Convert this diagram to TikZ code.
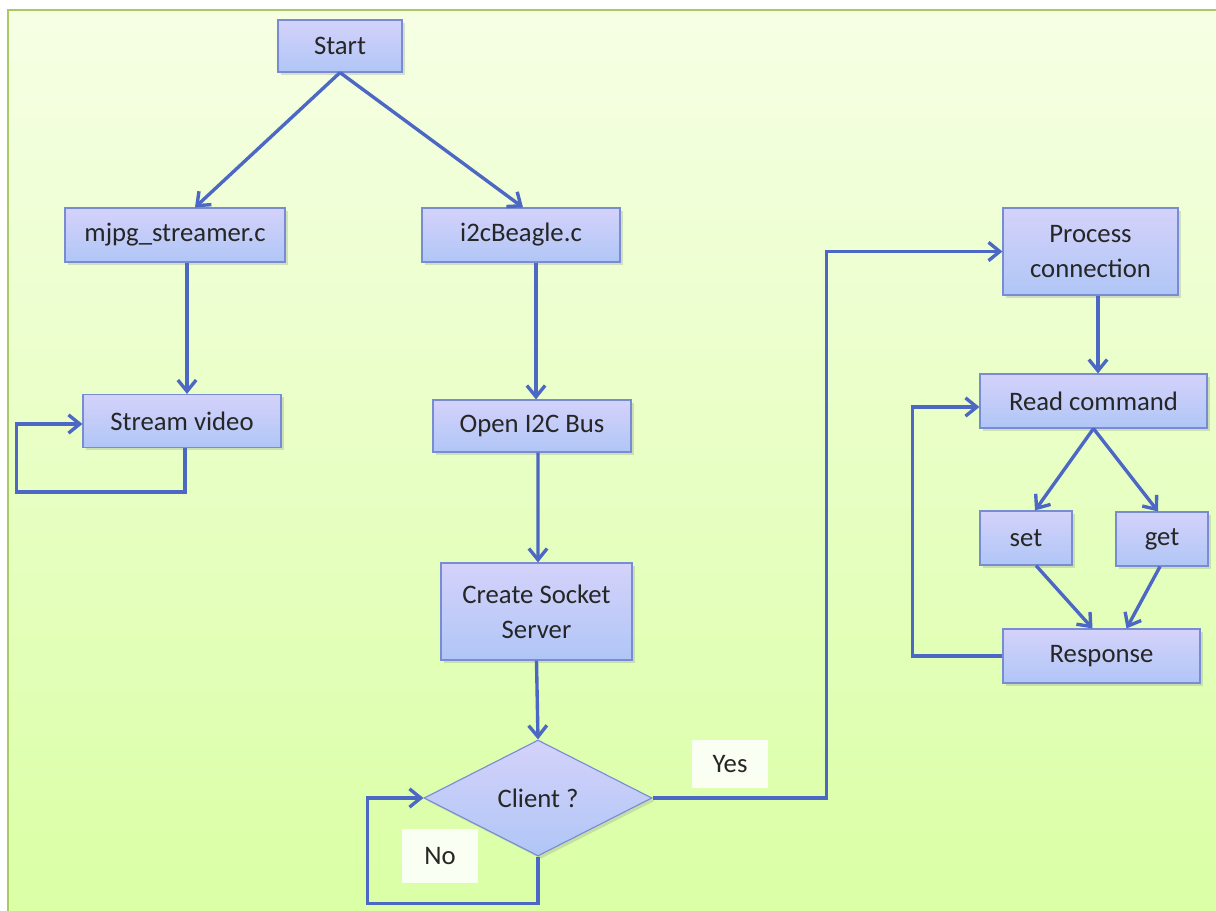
\documentclass[tikz,border=0pt]{standalone}
\usepackage{fontspec}
\setmainfont{Carlito}
\usetikzlibrary{shapes.geometric,arrows.meta,shadows,calc}
\definecolor{bgtop}{RGB}{246,255,228}
\definecolor{bgbot}{RGB}{218,255,165}
\definecolor{framecol}{RGB}{170,200,100}
\definecolor{boxtop}{RGB}{212,210,250}
\definecolor{boxbot}{RGB}{176,198,246}
\definecolor{boxline}{RGB}{120,140,212}
\definecolor{conncol}{RGB}{76,104,196}
\tikzset{
  procbox/.style={rectangle, draw=boxline, line width=0.8pt, top color=boxtop, bottom color=boxbot,
    drop shadow={opacity=0.25, shadow xshift=2pt, shadow yshift=-2pt},
    font=\fontsize{19}{25}\selectfont, align=center, inner sep=0pt, text=black!85},
  decbox/.style={procbox, diamond, aspect=2},
  lbl/.style={rectangle, fill=white, fill opacity=0.85, text opacity=1, inner sep=0pt,
    font=\fontsize{19}{25}\selectfont, text=black!85},
  link/.style={draw=conncol, line width=2.4pt, -{Straight Barb[length=8pt,width=13pt]}},
}
\begin{document}
\begin{tikzpicture}[x=0.025cm,y=-0.025cm]
\useasboundingbox (0,0) rectangle (1216,911);
\fill[white] (0,0) rectangle (1216,911);
\shade[top color=bgtop,bottom color=bgbot] (8,10) rectangle (1216,911);
\draw[framecol, line width=1.5pt] (8,911) -- (8,10) -- (1216,10);

\node[procbox, minimum width=3.1cm, minimum height=1.3cm] (start) at (340,46) {Start};
\node[procbox, minimum width=5.5cm, minimum height=1.35cm] (mjpg) at (175,235) {mjpg\_streamer.c};
\node[procbox, minimum width=4.95cm, minimum height=1.35cm] (i2c) at (521,235) {i2cBeagle.c};
\node[procbox, minimum width=4.95cm, minimum height=1.325cm] (stream) at (182,421) {Stream video};
\node[procbox, minimum width=4.95cm, minimum height=1.3cm] (open) at (532,426) {Open I2C Bus};
\node[procbox, minimum width=4.775cm, minimum height=2.425cm] (create) at (536.5,611.5) {Create Socket\\Server};
\node[decbox, minimum width=5.7cm, minimum height=2.9cm] (dia) at (538,798) {Client ?};
\node[procbox, minimum width=4.375cm, minimum height=2.175cm] (proc) at (1090.5,251.5) {Process\\connection};
\node[procbox, minimum width=5.675cm, minimum height=1.35cm] (read) at (1093.5,401) {Read command};
\node[procbox, minimum width=2.3cm, minimum height=1.35cm] (set) at (1026,538) {set};
\node[procbox, minimum width=2.3cm, minimum height=1.35cm] (get) at (1162,539) {get};
\node[procbox, minimum width=4.925cm, minimum height=1.35cm] (resp) at (1101.5,656) {Response};
\node[lbl, minimum width=1.9cm, minimum height=1.2cm] (yes) at (730,764) {Yes};
\node[lbl, minimum width=1.875cm, minimum height=1.325cm] (no) at (440,856) {No};

\draw[link] (start.south) -- ($(mjpg.north)+(20,0)$);
\draw[link] (start.south) -- ($(i2c.north)+(2,0)$);
\draw[link] ($(mjpg.south)+(12,0)$) -- ($(stream.north)+(5,0)$);
\draw[link] ($(stream.south)+(3,0)$) -- ++(0,44) -| ($(stream.west)+(-66,3)$) -- ($(stream.west)+(0,3)$);
\draw[link] ($(i2c.south)+(15,0)$) -- ($(open.north)+(4,0)$);
\draw[link] ($(open.south)+(6,0)$) -- ($(create.north)+(1.5,0)$);
\draw[link] (create.south) -- (dia.north);
\draw[link] (dia.south) -- ++(0,47) -| ($(dia.west)+(-56,0)$) -- (dia.west);
\draw[link] (dia.east) -| ($(proc.west)+(-176,0)$) -- (proc.west);
\draw[link] ($(proc.south)+(7.5,0)$) -- ($(read.north)+(4.5,0)$);
\draw[link] (read.south) -- ($(set.north)+(9,0)$);
\draw[link] (read.south) -- ($(get.north)+(-4,0)$);
\draw[link] ($(set.south)+(10,0)$) -- ($(resp.north)+(-9,0)$);
\draw[link] ($(get.south)+(-2,0)$) -- ($(resp.north)+(25,0)$);
\draw[link] (resp.west) -| ($(read.west)+(-67,6)$) -- ($(read.west)+(0,6)$);
\end{tikzpicture}
\end{document}
